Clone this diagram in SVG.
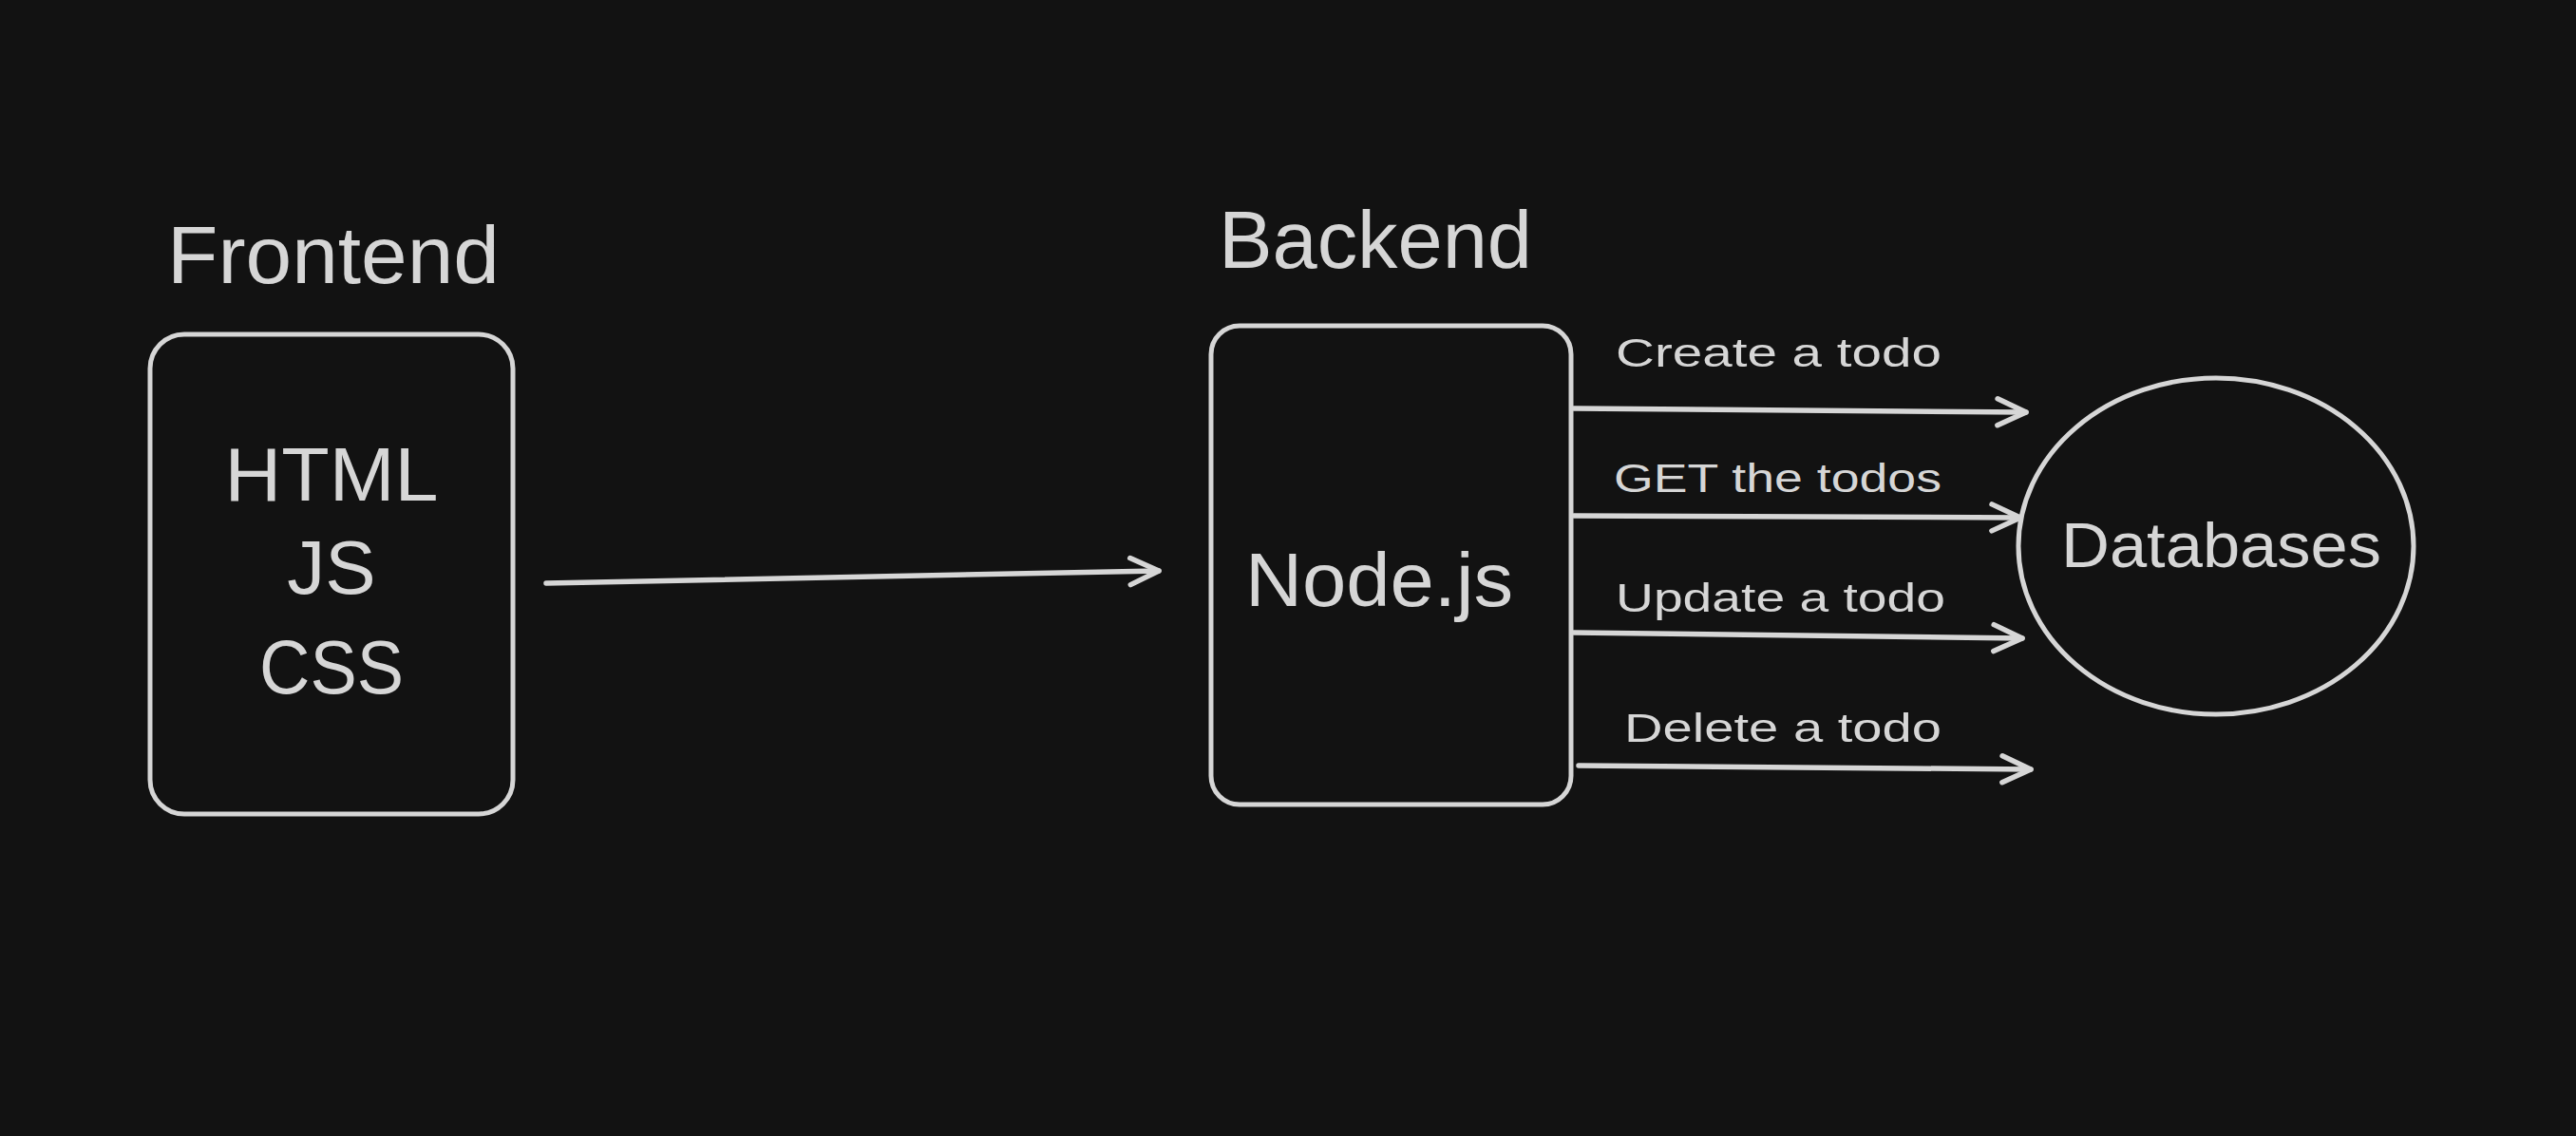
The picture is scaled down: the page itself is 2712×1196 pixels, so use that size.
<svg xmlns="http://www.w3.org/2000/svg" width="2712" height="1196" viewBox="0 0 2712 1196">
<defs>
<style>
.bg{fill:#121212}
.shape{fill:none;stroke:#d6d6d6;stroke-width:5;stroke-linecap:round;stroke-linejoin:round}
.conn{fill:none;stroke:#d6d6d6;stroke-width:5.5;stroke-linecap:round}
.t{fill:#d6d6d6;font-family:"Liberation Sans","DejaVu Sans",sans-serif}
.title{font-size:86px}
.big{font-size:80px}
.lbl{font-size:42px}
</style>
<marker id="ah" viewBox="0 0 40 40" refX="34" refY="20" markerWidth="40" markerHeight="40" markerUnits="userSpaceOnUse" orient="auto">
<path d="M4 6 L34 20 L4 34" fill="none" stroke="#d6d6d6" stroke-width="5.5" stroke-linecap="round" stroke-linejoin="round"/>
</marker>
</defs>
<rect class="bg" x="0" y="0" width="2712" height="1196"/>
<g id="frontend-title"><text class="t title" x="176" y="298" textLength="350" lengthAdjust="spacingAndGlyphs">Frontend</text></g>
<g id="frontend">
<rect class="shape" x="158" y="352" width="382" height="505" rx="36"/>
<text class="t big" x="349" y="527" text-anchor="middle" textLength="225" lengthAdjust="spacingAndGlyphs">HTML</text>
<text class="t big" x="349" y="625" text-anchor="middle">JS</text>
<text class="t big" x="349" y="730" text-anchor="middle" textLength="152" lengthAdjust="spacingAndGlyphs">CSS</text>
</g>
<g id="backend-title"><text class="t title" x="1283" y="282" textLength="330" lengthAdjust="spacingAndGlyphs">Backend</text></g>
<g id="backend">
<rect class="shape" x="1275" y="343" width="379" height="504" rx="30"/>
<text class="t big" x="1311" y="638" textLength="282" lengthAdjust="spacingAndGlyphs">Node.js</text>
</g>
<g id="databases">
<ellipse class="shape" cx="2333" cy="575" rx="208" ry="177"/>
<text class="t" style="font-size:66px" x="2170" y="597" textLength="337" lengthAdjust="spacingAndGlyphs">Databases</text>
</g>
<g id="connectors">
<path class="conn" d="M575 614 L1220 601" marker-end="url(#ah)"/>
<path class="conn" d="M1657 430 L2133 434" marker-end="url(#ah)"/>
<path class="conn" d="M1657 543 L2127 545" marker-end="url(#ah)"/>
<path class="conn" d="M1657 666 L2129 672" marker-end="url(#ah)"/>
<path class="conn" d="M1662 806 L2138 810" marker-end="url(#ah)"/>
</g>
<g id="labels">
<text class="t lbl" x="1701" y="386" textLength="343" lengthAdjust="spacingAndGlyphs">Create a todo</text>
<text class="t lbl" x="1699" y="518" textLength="345" lengthAdjust="spacingAndGlyphs">GET the todos</text>
<text class="t lbl" x="1701" y="644" textLength="347" lengthAdjust="spacingAndGlyphs">Update a todo</text>
<text class="t lbl" x="1710" y="781" textLength="334" lengthAdjust="spacingAndGlyphs">Delete a todo</text>
</g>
</svg>
